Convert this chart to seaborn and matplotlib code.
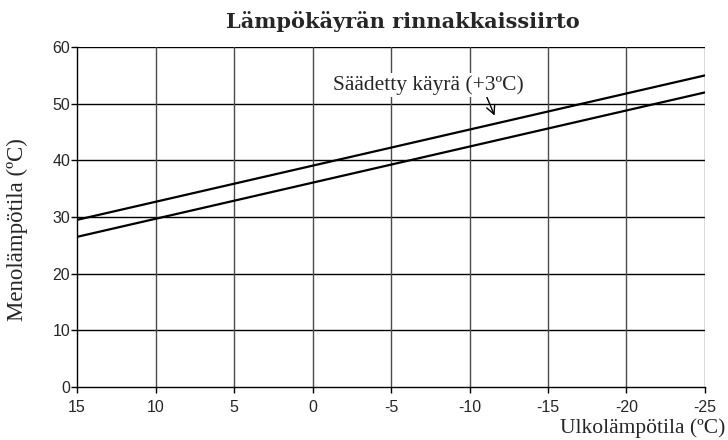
import matplotlib
matplotlib.use("Agg")
import matplotlib.pyplot as plt
import seaborn as sns
import pandas as pd

outdoor_temp = [15, -25]
base_curve = [26.5, 52.0]
adjusted_curve = [29.5, 55.0]
x_ticks = [15, 10, 5, 0, -5, -10, -15, -20, -25]
y_ticks = [0, 10, 20, 30, 40, 50, 60]

title = "Lämpökäyrän rinnakkaissiirto"
xlabel = "Ulkolämpötila (ºC)"
ylabel = "Menolämpötila (ºC)"
annot = "Säädetty käyrä (+3ºC)"

df = pd.DataFrame({
    "x": outdoor_temp + outdoor_temp,
    "y": base_curve + adjusted_curve,
    "s": ["base"] * 2 + ["adj"] * 2,
})

sns.set_theme(style="white")
fig = plt.figure(figsize=(7.28, 4.40), dpi=100)
ax = fig.add_axes([0.1058, 0.1205, 0.8626, 0.7725])

sns.lineplot(data=df, x="x", y="y", hue="s", palette=["black", "black"],
             linewidth=1.6, legend=False, ax=ax, zorder=3)

ax.set_xlim(15, -25)
ax.set_ylim(0, 60)
ax.set_xticks(x_ticks)
ax.set_yticks(y_ticks)
ax.set_xticklabels([str(v) for v in x_ticks], family="Liberation Sans", fontsize=11.5)
ax.set_yticklabels([str(v) for v in y_ticks], family="Liberation Sans", fontsize=11.5)

for v in y_ticks[1:]:
    ax.axhline(v, color="black", lw=1.0, zorder=1)
for v in x_ticks[1:]:
    ax.axvline(v, color="#4a4a4a", lw=1.0, zorder=1)

for s in ["top", "right"]:
    ax.spines[s].set_visible(False)
for s in ["left", "bottom"]:
    ax.spines[s].set_color("black")
    ax.spines[s].set_linewidth(1.0)
ax.tick_params(axis="x", direction="out", length=4, width=1, color="black",
               bottom=True, pad=5.5)
ax.tick_params(axis="y", direction="out", length=4, width=1, color="black",
               left=True, pad=1)

ax.set_xlabel("")
ax.set_ylabel("")
fig.text(0.997, 0.016, xlabel, ha="right", va="baseline",
         family="Liberation Serif", fontsize=15.5)
fig.text(0.024, 0.478, ylabel, ha="center", va="center", rotation=90,
         family="Liberation Serif", fontsize=16.5)
fig.text(0.553, 0.952, title, ha="center", va="center",
         family="DejaVu Serif", fontweight="bold", fontsize=15)

ax.annotate(annot, xy=(-11.6, 47.9), xytext=(-7.4, 53.3),
            ha="center", va="center", family="Liberation Serif", fontsize=15.5,
            bbox=dict(boxstyle="square,pad=0.1", fc="white", ec="none"),
            arrowprops=dict(arrowstyle="->", color="black", lw=1.0,
                            shrinkA=0, shrinkB=0, relpos=(0.8, 0.0)),
            zorder=5)

fig.savefig("out.png", dpi=100)
